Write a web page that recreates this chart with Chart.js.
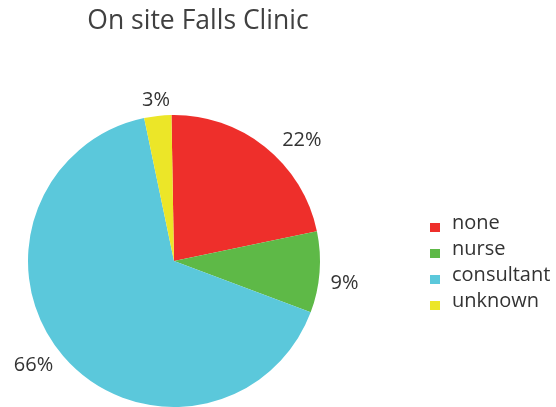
<!DOCTYPE html>
<html lang="en">
<head>
    <meta charset="UTF-8">
    <title>On site Falls Clinic</title>
    <script src="https://cdn.jsdelivr.net/npm/chart.js"></script>
    <style>
        html, body { margin: 0; padding: 0; background: #fff; }
        #wrap { width: 556px; height: 407px; }
    </style>
</head>
<body>
    <div id="wrap">
        <canvas id="fallsChart" width="556" height="407"></canvas>
    </div>

    <script>
        // Données du graphique
        var categories = ['none', 'nurse', 'consultant', 'unknown'];
        var percents = [22, 9, 66, 3];
        var sliceColors = ['#EE2F2B', '#5EB947', '#5BC8DB', '#ECE628'];

        // Décalage angulaire (degrés) et distance des étiquettes
        var labelTurn = [8, 3, 4, 0];
        var labelDist = [176, 172, 175, 162];

        var textFont = '"Open Sans", "Noto Sans", sans-serif';

        // Titre, étiquettes et légende dessinés à la main
        var decorPlugin = {
            id: 'decor',
            afterDraw: function (chart) {
                var ctx = chart.ctx;
                var meta = chart.getDatasetMeta(0);
                ctx.save();

                // titre
                ctx.fillStyle = '#404040';
                ctx.font = '26.5px ' + textFont;
                ctx.textAlign = 'center';
                ctx.textBaseline = 'middle';
                ctx.fillText('On site Falls Clinic', 198, 21);

                // étiquettes de pourcentage
                ctx.fillStyle = '#333333';
                ctx.font = '20px ' + textFont;
                meta.data.forEach(function (arc, i) {
                    var mid = (arc.startAngle + arc.endAngle) / 2 + labelTurn[i] * Math.PI / 180;
                    var x = arc.x + Math.cos(mid) * labelDist[i];
                    var y = arc.y + Math.sin(mid) * labelDist[i];
                    ctx.fillText(percents[i] + '%', x, y);
                });

                // légende
                ctx.textAlign = 'left';
                ctx.font = '20px ' + textFont;
                categories.forEach(function (name, i) {
                    var y = 223 + i * 26;
                    ctx.fillStyle = sliceColors[i];
                    ctx.fillRect(430, y, 10, 9);
                    ctx.fillStyle = '#333333';
                    ctx.fillText(name, 452, y);
                });

                ctx.restore();
            }
        };

        var fallsChart = new Chart(document.getElementById('fallsChart'), {
            type: 'pie',
            data: {
                labels: categories,
                datasets: [{
                    data: percents,
                    backgroundColor: sliceColors,
                    borderWidth: 0,
                    hoverOffset: 0
                }]
            },
            options: {
                responsive: false,
                animation: false,
                events: [],
                rotation: -1,
                layout: {
                    padding: { left: 28, right: 236, top: 115, bottom: 0 }
                },
                plugins: {
                    legend: { display: false },
                    title: { display: false },
                    tooltip: { enabled: false }
                }
            },
            plugins: [decorPlugin]
        });
    </script>
</body>
</html>
